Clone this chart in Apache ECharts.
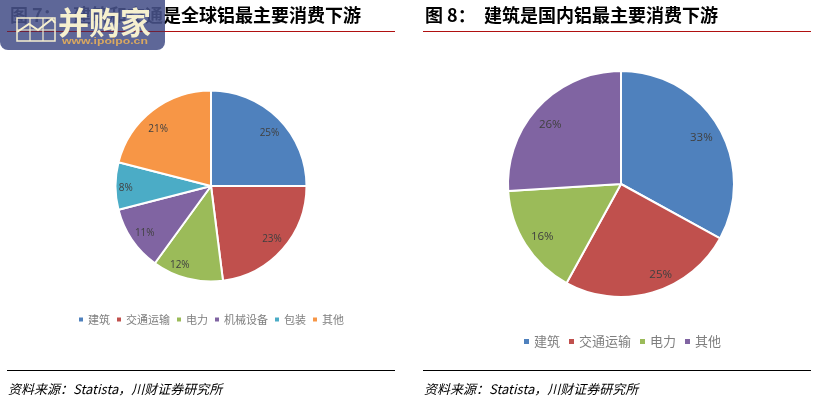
<!DOCTYPE html>
<html><head><meta charset="utf-8">
<style>html,body{margin:0;padding:0;background:#fff}#c{width:817px;height:405px}</style>
<script src="https://cdn.jsdelivr.net/npm/echarts@6/dist/echarts.min.js"></script>
</head><body><div id="c"></div>
<script>
const titleLeft = '图 7：   建筑和交通是全球铝最主要消费下游';
const titleRight = '图 8：  建筑是国内铝最主要消费下游';
const sourceText = '资料来源：Statista，川财证券研究所';
const catsLeft = ['建筑','交通运输','电力','机械设备','包装','其他'];
const valsLeft = [25,23,12,11,8,21];
const colorsLeft = ['#4f81bd','#c0504d','#9bbb59','#8064a2','#4bacc6','#f79646'];
const catsRight = ['建筑','交通运输','电力','其他'];
const valsRight = [33,25,16,26];
const colorsRight = ['#4f81bd','#c0504d','#9bbb59','#8064a2'];
const CJK = '"Noto Sans CJK SC","Liberation Sans",sans-serif';
const nudgeLeft = [[1,5],[0,-1],[-11,0],[1,1],[-4,2],[-3,7]];
const nudgeRight = [[-2,2],[13,-1],[2,1],[-1,6]];

function toData(cats, vals, colors){return cats.map((n,i)=>({name:n,value:vals[i],itemStyle:{color:colors[i]}}));}
function pies(cats, vals, colors, center, r, fs, nudge){
  return [
    {type:'pie',center,radius:[0,r],startAngle:90,clockwise:true,silent:true,animation:false,
     itemStyle:{borderColor:'#fff',borderWidth:2},label:{show:false},labelLine:{show:false},
     data:toData(cats,vals,colors)},
    {type:'pie',center,radius:[r*0.64,r],startAngle:90,clockwise:true,silent:true,animation:false,
     itemStyle:{color:'transparent',borderWidth:0},
     label:{show:true,position:'inside',formatter:'{c}%',fontSize:fs,color:'#404040',fontFamily:'"Open Sans","Liberation Sans",sans-serif'},
     labelLine:{show:false},
     labelLayout:p=>({dx:nudge[p.dataIndex][0],dy:nudge[p.dataIndex][1]}),
     data:cats.map((n,i)=>({name:n,value:vals[i],itemStyle:{color:'transparent'}}))}
  ];
}
function legend(cats, colors, left, top, fs, icon, gap){
  return {left,top,icon:'rect',itemWidth:icon,itemHeight:icon,itemGap:gap,padding:0,selectedMode:false,
    textStyle:{fontSize:fs,color:'#7f7f7f',fontFamily:CJK,padding:[0,0,0,-1]},
    data:cats.map((n,i)=>({name:n,itemStyle:{color:colors[i]}}))};
}
function hline(x1,x2,y,c){return {type:'line',shape:{x1,y1:y,x2,y2:y},style:{stroke:c,lineWidth:1},z:5};}
function txt(x,y,text,font,fill,extra){return Object.assign({type:'text',x,y,style:{text,font,fill,textVerticalAlign:'middle'},z:5},extra||{});}
const titleFont = 'bold 18px '+CJK;
const srcFont = 'italic 13px '+CJK;
const cream='#f6f0cf';
const chart = echarts.init(document.getElementById('c'),null,{renderer:'canvas'});
chart.setOption({
  animation:false,
  backgroundColor:'#fff',
  legend:[legend(catsLeft,colorsLeft,77,314,11,6,5),legend(catsRight,colorsRight,522,335,13,7,7)],
  series:[...pies(catsLeft,valsLeft,colorsLeft,[211,186],95.5,10,nudgeLeft),...pies(catsRight,valsRight,colorsRight,[621,184],113,11.5,nudgeRight)],
  graphic:[
    txt(10,15,titleLeft,titleFont,'#000'),
    txt(425,15,titleRight,titleFont,'#000'),
    hline(7,395,31.5,'#b01010'),hline(423,811,31.5,'#b01010'),
    hline(7,395,370.5,'#000'),hline(423,811,370.5,'#000'),
    txt(8,389,sourceText,srcFont,'#000'),
    txt(424,389,sourceText,srcFont,'#000'),
    {type:'rect',shape:{x:0,y:-8,width:165,height:58,r:8},style:{fill:'rgba(72,82,138,0.88)'},z:6},
    {type:'line',shape:{x1:7,y1:31.5,x2:165,y2:31.5},style:{stroke:'rgba(120,20,40,0.8)',lineWidth:1},z:7},
    {type:'rect',shape:{x:17,y:18,width:38,height:23},style:{fill:'none',stroke:cream,lineWidth:1.5},z:7},
    {type:'line',shape:{x1:30,y1:18,x2:30,y2:41},style:{stroke:cream,lineWidth:1.2},z:7},
    {type:'line',shape:{x1:43,y1:18,x2:43,y2:41},style:{stroke:cream,lineWidth:1.2},z:7},
    {type:'line',shape:{x1:17,y1:30,x2:55,y2:30},style:{stroke:cream,lineWidth:1.2},z:7},
    {type:'polyline',shape:{points:[[17,32],[29,24],[38,30],[52,19],[55,23]]},style:{fill:'none',stroke:cream,lineWidth:2},z:7},
    txt(58,22,'并购家','bold 31px '+CJK,cream,{z:7}),
    txt(62,42,'www.ipoipo.cn','bold 9px "Liberation Sans",sans-serif','#d9a860',{z:7,scaleX:1.36})
  ]
});
</script></body></html>
